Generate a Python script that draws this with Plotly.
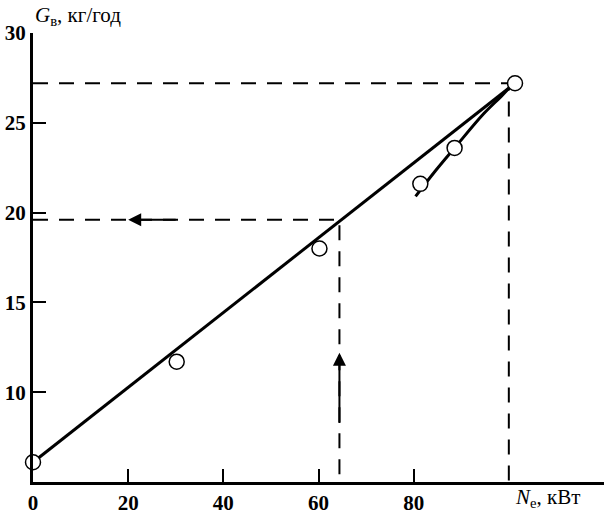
import plotly.graph_objects as go

# Measured points (N_e, kW ; G_v, kg/h)
ne_points = [0, 30.2, 60.2, 81.4, 88.6, 101.3]
gv_points = [6.1, 11.7, 18.0, 21.6, 23.6, 27.2]

# Straight characteristic
line_x = [0, 101.3]
line_y = [6.1, 27.2]

# Second (curved) characteristic
curve_x = [80.4, 84.5, 88.6, 94.7, 98.5, 101.0]
curve_y = [20.9, 22.3, 23.6, 25.5, 26.5, 27.2]

# Guide lines
guide_n = 64.4
guide_g = 19.6
max_n = 100.0
max_g = 27.2
x_min, x_max = 0, 120
y_min, y_max = 5, 30

x_ticks = [0, 20, 40, 60, 80, 120]
x_ticktext = ["0", "20", "40", "60", "80", ""]
y_ticks = [10, 15, 20, 25, 30]

FONT = "Liberation Serif, Times New Roman, DejaVu Serif, serif"
dash = "15px,11px"

fig = go.Figure()

# dashed guides
fig.add_trace(go.Scatter(x=[x_min, max_n, max_n], y=[max_g, max_g, y_min], mode="lines",
                         line=dict(color="black", width=2, dash=dash), hoverinfo="skip"))
fig.add_trace(go.Scatter(x=[x_min, guide_n, guide_n], y=[guide_g, guide_g, y_min], mode="lines",
                         line=dict(color="black", width=2, dash=dash), hoverinfo="skip"))

# characteristic lines
fig.add_trace(go.Scatter(x=line_x, y=line_y, mode="lines",
                         line=dict(color="black", width=3)))
fig.add_trace(go.Scatter(x=curve_x, y=curve_y, mode="lines",
                         line=dict(color="black", width=3, shape="spline")))

# points
fig.add_trace(go.Scatter(x=ne_points, y=gv_points, mode="markers", cliponaxis=False,
                         marker=dict(size=15, color="white", line=dict(color="black", width=1.5))))

ann = [
    dict(x=20, y=guide_g, ax=30.3, ay=guide_g, xref="x", yref="y", axref="x", ayref="y",
         text="", showarrow=True, arrowhead=2, arrowsize=1.3, arrowwidth=2, arrowcolor="black"),
    dict(x=guide_n, y=12.2, ax=guide_n, ay=8.2, xref="x", yref="y", axref="x", ayref="y",
         text="", showarrow=True, arrowhead=2, arrowsize=1.3, arrowwidth=2, arrowcolor="black"),
    dict(x=0.0, y=1.038, xref="paper", yref="paper", xanchor="left", yanchor="middle",
         text="<i>G</i><sub>в</sub>, кг/год", showarrow=False,
         font=dict(family=FONT, size=21, color="black")),
    dict(x=0.8405, y=-0.036, xref="paper", yref="paper", xanchor="left", yanchor="middle",
         text="<i>N</i><sub>е</sub>, кВт", showarrow=False,
         font=dict(family=FONT, size=21, color="black")),
]

fig.update_layout(
    width=610, height=518,
    margin=dict(l=33, r=6, t=33, b=36),
    plot_bgcolor="white", paper_bgcolor="white",
    showlegend=False,
    annotations=ann,
    font=dict(family=FONT, size=21, color="black"),
    xaxis=dict(range=[x_min, x_max], tickvals=x_ticks, ticktext=x_ticktext,
               showline=True, linecolor="black", linewidth=3,
               ticks="inside", ticklen=13, tickwidth=2, tickcolor="black",
               showgrid=False, zeroline=False, automargin=False,
               tickfont=dict(family=FONT, size=21, color="black", weight="bold")),
    yaxis=dict(range=[y_min, y_max], tickvals=y_ticks,
               showline=True, linecolor="black", linewidth=3,
               ticks="inside", ticklen=13, tickwidth=2, tickcolor="black",
               showgrid=False, zeroline=False, automargin=False, ticklabelstandoff=0,
               tickfont=dict(family=FONT, size=21, color="black", weight="bold")),
)

fig.write_html("out.html", config={"displayModeBar": False},
               post_script="document.body.style.margin='0';document.body.style.overflow='hidden';")
